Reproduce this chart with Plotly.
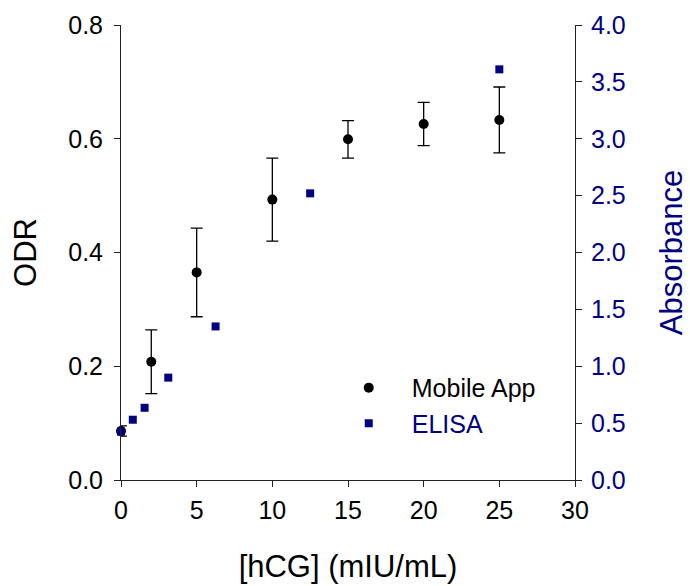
import plotly.graph_objects as go

# Mobile App (ODR, left axis)
app_x = [0, 2, 5, 10, 15, 20, 25]
app_y = [0.086, 0.208, 0.365, 0.493, 0.599, 0.626, 0.633]
app_err = [0.009, 0.056, 0.078, 0.073, 0.033, 0.038, 0.058]

# ELISA (Absorbance, right axis)
elisa_x = [0, 0.78, 1.56, 3.125, 6.25, 12.5, 25]
elisa_y = [0.425, 0.53, 0.635, 0.9, 1.35, 2.52, 3.61]

x_ticks = [0, 5, 10, 15, 20, 25, 30]
y_ticks = [0.0, 0.2, 0.4, 0.6, 0.8]
y2_ticks = [0.0, 0.5, 1.0, 1.5, 2.0, 2.5, 3.0, 3.5, 4.0]

NAVY = "#000080"
FONT = "Liberation Sans, Arial, sans-serif"

fig = go.Figure()
fig.add_trace(go.Scatter(
    x=app_x, y=app_y, mode="markers", name="Mobile App",
    marker=dict(symbol="circle", size=10, color="black"),
    error_y=dict(type="data", array=app_err, visible=True, color="black",
                 thickness=1.3, width=6),
    cliponaxis=False, yaxis="y",
))
fig.add_trace(go.Scatter(
    x=elisa_x, y=elisa_y, mode="markers",
    name='<span style="color:#000080">ELISA</span>',
    marker=dict(symbol="square", size=8, color=NAVY),
    cliponaxis=False, yaxis="y2",
))

axis_common = dict(showgrid=False, zeroline=False, showline=True,
                   linecolor="#222", linewidth=1, ticks="outside",
                   ticklen=6, tickcolor="#222", tickwidth=1,
                   automargin=False)

fig.update_layout(
    width=690, height=586,
    margin=dict(l=121, r=115, t=25, b=106),
    paper_bgcolor="white", plot_bgcolor="white",
    font=dict(family=FONT, size=25, color="black"),
    showlegend=True,
    legend=dict(x=0.451, y=0.253, xanchor="left", yanchor="top",
                bgcolor="rgba(0,0,0,0)", font=dict(size=25),
                itemwidth=76, tracegroupgap=0),
    xaxis=dict(range=[0, 30], tickvals=x_ticks, ticklabelstandoff=2,
               title=dict(text="[hCG] (mIU/mL)", font=dict(size=31), standoff=32),
               **axis_common),
    yaxis=dict(range=[0, 0.8], tickvals=y_ticks, tickformat=".1f",
               ticklabelstandoff=6,
               title=dict(text="ODR", font=dict(size=31), standoff=22),
               **axis_common),
    yaxis2=dict(range=[0, 4.0], tickvals=y2_ticks, tickformat=".1f",
                overlaying="y", side="right", ticklabelstandoff=4,
                tickfont=dict(color=NAVY),
                title=dict(text="Absorbance", font=dict(size=31, color=NAVY), standoff=35),
                **axis_common),
)

fig.write_html("out.html")
